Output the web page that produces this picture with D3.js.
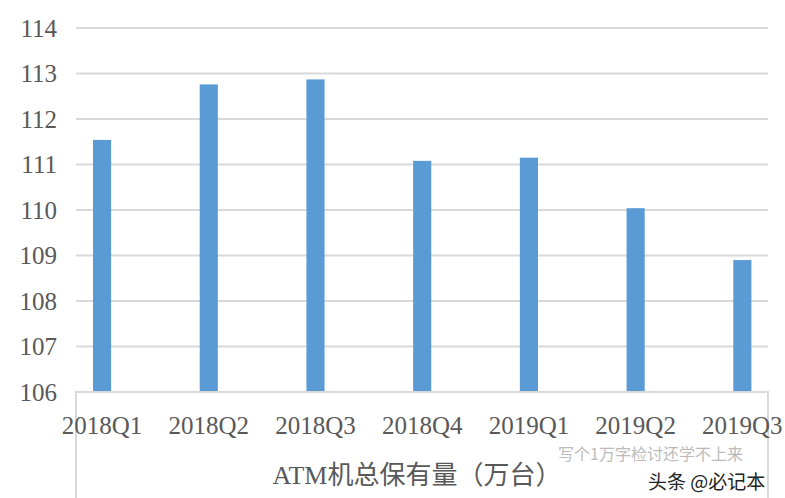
<!DOCTYPE html>
<html><head><meta charset="utf-8">
<script src="https://cdn.jsdelivr.net/npm/d3@7"></script>
<style>body{margin:0;background:#fff}svg{display:block}</style>
</head><body>
<svg id="c" width="785" height="498"></svg>
<script>
const categories = ["2018Q1","2018Q2","2018Q3","2018Q4","2019Q1","2019Q2","2019Q3"];
const values = [111.54, 112.76, 112.87, 111.08, 111.15, 110.04, 108.9];
const yTicks = [106,107,108,109,110,111,112,113,114];
const title = "ATM机总保有量（万台）";

const svg = d3.select("#c");
const x = d3.scaleBand().domain(categories).range([48.7, 795.7]).paddingInner(0.83).paddingOuter(0.415);
const y = d3.scaleLinear().domain([106,114]).range([392,28]);
const gridL = 76, gridR = 768;

// gridlines
svg.append("g").selectAll("line").data(yTicks.slice(1)).join("line")
  .attr("x1", gridL).attr("x2", gridR)
  .attr("y1", d=>y(d)).attr("y2", d=>y(d))
  .attr("stroke", "#d9d9d9").attr("stroke-width", 2);

// y labels
svg.append("g").selectAll("text").data(yTicks).join("text")
  .attr("x", 57).attr("y", d=>y(d)).attr("dy", "0.34em")
  .attr("text-anchor", "end")
  .attr("font-family", "'Liberation Serif', 'DejaVu Serif', serif")
  .attr("font-size", 25).attr("fill", "#595959")
  .text(d=>d);

// bars
svg.append("g").selectAll("rect").data(values).join("rect")
  .attr("x", (d,i)=>x(categories[i]))
  .attr("width", x.bandwidth())
  .attr("y", d=>y(d))
  .attr("height", d=>y(106)-y(d))
  .attr("fill", "#5b9bd5");

// axis box
svg.append("path")
  .attr("d", `M${gridL},498 V${y(106)} H${gridR} V498`)
  .attr("fill", "none").attr("stroke", "#d9d9d9").attr("stroke-width", 2);

// x labels
svg.append("g").selectAll("text").data(categories).join("text")
  .attr("x", d=>x(d)+x.bandwidth()/2).attr("y", 434)
  .attr("text-anchor", "middle")
  .attr("font-family", "'Liberation Serif', 'DejaVu Serif', serif")
  .attr("font-size", 25).attr("fill", "#595959")
  .text(d=>d);

// axis title
svg.append("text")
  .attr("x", 417).attr("y", 484)
  .attr("text-anchor", "middle")
  .attr("font-family", "'Liberation Serif', 'Noto Sans CJK SC', serif")
  .attr("font-size", 26).attr("fill", "#595959")
  .text(title);

// watermark
svg.append("text")
  .attr("x", 558).attr("y", 460)
  .attr("font-family", "'Noto Sans CJK SC', sans-serif")
  .attr("font-size", 16).attr("fill", "#bbbbbb")
  .text("写个1万字检讨还学不上来");
svg.append("text")
  .attr("x", 648).attr("y", 489)
  .attr("font-family", "'Noto Sans CJK SC', sans-serif")
  .attr("font-size", 19).attr("fill", "#222")
  .text("头条 @必记本");
</script>
</body></html>
